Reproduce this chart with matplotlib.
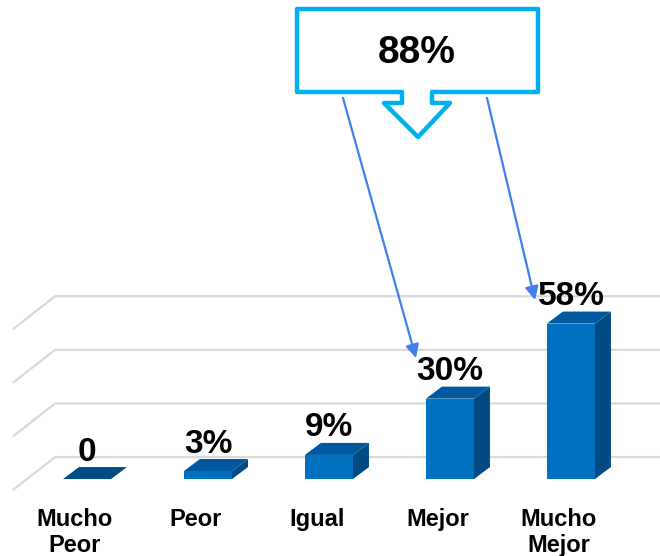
import matplotlib
matplotlib.use("Agg")
import matplotlib.pyplot as plt
from matplotlib.patches import Polygon, Rectangle

plt.rcParams['font.family'] = ['Liberation Sans', 'DejaVu Sans']

# data
categories = ["Mucho\nPeor", "Peor", "Igual", "Mejor", "Mucho\nMejor"]
values = [0, 3, 9, 30, 58]
value_labels = ["0", "3%", "9%", "30%", "58%"]
grid_values = [0, 20, 40, 60]
total_label = "88%"

# colours
front_col = "#0070C0"
top_col = "#0058A0"
side_col = "#004B82"
grid_col = "#D9D9D9"
callout_col = "#00B0F0"
arrow_col = "#3F80EE"

W, H = 660, 556
fig = plt.figure(figsize=(W / 100, H / 100), dpi=100)
ax = fig.add_axes([0, 0, 1, 1])
ax.set_xlim(-0.719, 4.736)
ax.set_ylim(-28.7, 178.7)
ax.axis("off")

# pseudo 3D geometry (data units)
bar_w = 0.397
bar_dx, bar_dy = 0.132, 4.48      # bar depth
floor_front, floor_back = -4.1, 8.2
wall_front_x, wall_back_x = -0.612, -0.264

# back wall gridlines
for g in grid_values:
    ax.plot([wall_front_x, wall_back_x, 4.74],
            [g + floor_front, g + floor_back, g + floor_back],
            color=grid_col, lw=1.6, solid_capstyle="butt", zorder=1)

# bars
for i, v in enumerate(values):
    x0 = i - bar_w / 2
    x1 = i + bar_w / 2
    if v > 0:
        ax.add_patch(Rectangle((x0, 0), bar_w, v, facecolor=front_col,
                               edgecolor="none", zorder=3))
        ax.add_patch(Polygon([(x1, 0), (x1 + bar_dx, bar_dy),
                              (x1 + bar_dx, v + bar_dy), (x1, v)],
                             closed=True, facecolor=side_col,
                             edgecolor="none", zorder=3))
    ax.add_patch(Polygon([(x0, v), (x1, v), (x1 + bar_dx, v + bar_dy),
                          (x0 + bar_dx, v + bar_dy)],
                         closed=True, facecolor=top_col if v > 0 else side_col,
                         edgecolor="none", zorder=3))
    ax.text(i, v + bar_dy + 2.4, value_labels[i], ha="center", va="baseline",
            fontsize=24, fontweight="bold", color="black", zorder=4)
    ax.text(i - 0.1, -10.9, categories[i], ha="center", va="top",
            fontsize=17, fontweight="bold", color="black",
            linespacing=1.15, zorder=4)

# callout box with down arrow (pixel layout -> figure fraction)
pts = [(297, 9), (538, 9), (538, 92), (432, 92), (432, 103), (450, 103),
       (418, 137), (384, 103), (402, 103), (402, 92), (297, 92)]
pts = [(x / W, 1 - y / H) for x, y in pts]
fig.patches.append(Polygon(pts, closed=True, transform=fig.transFigure,
                           facecolor="white", edgecolor=callout_col,
                           lw=3.2, joinstyle="round", zorder=5))
fig.text(417 / W, 1 - 53 / H, total_label, ha="center", va="center",
         fontsize=28, fontweight="bold", color="black", zorder=6)

# arrows from callout to the two top bars
for (xs, ys), (xe, ye) in [((343, 98), (416, 358)), ((487, 98), (535, 300))]:
    ax.annotate("", xy=(xe / W, 1 - ye / H), xytext=(xs / W, 1 - ys / H),
                xycoords="figure fraction", textcoords="figure fraction",
                arrowprops=dict(arrowstyle="-|>", color=arrow_col, lw=1.6,
                                mutation_scale=20, shrinkA=0, shrinkB=0),
                zorder=6)

fig.savefig("out.png", dpi=100, facecolor="white")
